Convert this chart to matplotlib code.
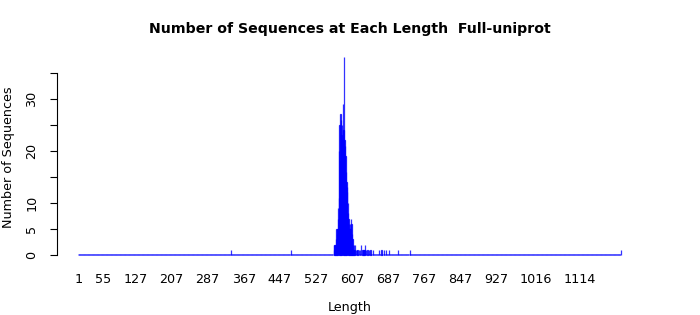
import numpy as np
import matplotlib
matplotlib.use("Agg")
import matplotlib.pyplot as plt

# sequence length -> number of sequences (only non-zero lengths listed)
seq_lengths = [339, 472,
               567, 568, 569, 570, 571, 572, 573, 574, 575, 576, 577, 578, 579, 580,
               581, 582, 583, 584, 585, 586, 587, 588, 589, 590, 591, 592, 593, 594,
               595, 596, 597, 598, 599, 600, 601, 602, 603, 604, 605, 606, 607, 608,
               609, 610, 611, 612, 613, 614, 616, 618, 620, 623, 625, 628, 631, 633,
               635, 637, 639, 642, 645, 649, 654, 668, 673, 678, 683, 690, 710, 736,
               1205]
seq_counts = [1, 1,
              1, 2, 2, 1, 2, 3, 5, 4, 5, 7, 9, 11, 20, 25,
              18, 27, 26, 23, 25, 22, 24, 29, 24, 38, 22, 21, 19, 16,
              14, 13, 12, 10, 8, 7, 6, 5, 6, 5, 7, 6, 4, 3,
              3, 2, 1, 2, 1, 2, 1, 1, 1, 1, 1, 2, 1, 1,
              1, 2, 1, 1, 1, 1, 1, 1, 1, 1, 1, 1, 1, 1,
              1]
max_length = 1205

tick_values = [1, 55, 127, 207, 287, 367, 447, 527, 607, 687, 767, 847, 927, 1016, 1114]
y_ticks = [0, 5, 10, 15, 20, 25, 30, 35]
y_tick_labels = ["0", "5", "10", "", "20", "", "30", ""]

# every length from 1 to max gets a bar, zeros included
all_lengths = np.arange(1, max_length + 1)
all_counts = np.zeros(max_length)
for l, c in zip(seq_lengths, seq_counts):
    all_counts[l - 1] = c
empty = all_counts == 0

fig = plt.figure(figsize=(7, 3.15), dpi=100)
ax = fig.add_axes([0.0814, 0.1654, 0.8371, 0.6787])

# zero-height bars only show their border -> the blue base line
ax.bar(all_lengths[empty], all_counts[empty], width=1.0, color=(0, 0, 1, 0.5),
       edgecolor="blue", linewidth=1.2, snap=False)
ax.bar(all_lengths[~empty], all_counts[~empty], width=0.83, color=(0, 0, 1, 0.5),
       edgecolor=(0, 0, 1, 0.8), linewidth=0.9)

ax.set_xlim(-47.6, 1253.6)
ax.set_ylim(-1.52, 39.52)

for side in ["top", "right", "bottom"]:
    ax.spines[side].set_visible(False)
ax.spines["left"].set_bounds(0, 35)
ax.spines["left"].set_linewidth(0.8)

ax.set_xticks(tick_values)
ax.set_xticklabels([str(v) for v in tick_values], fontsize=9.2)
ax.tick_params(axis="x", length=0, pad=7.5)

ax.set_yticks(y_ticks)
ax.set_yticklabels(y_tick_labels, fontsize=9.2, rotation=90)
ax.tick_params(axis="y", length=5, width=0.8, pad=8.5)
for lab in ax.get_yticklabels():
    lab.set_va("center")

fig.text(0.5, 1 - 29 / 315, "Number of Sequences at Each Length  Full-uniprot",
         ha="center", va="center", fontsize=10.2, fontweight="bold")
fig.text(0.5, 1 - 307 / 315, "Length", ha="center", va="center", fontsize=9.2)
fig.text(9 / 700, 1 - 157 / 315, "Number of Sequences", ha="center", va="center",
         rotation=90, fontsize=9.2)

fig.savefig("out.png", dpi=100)
